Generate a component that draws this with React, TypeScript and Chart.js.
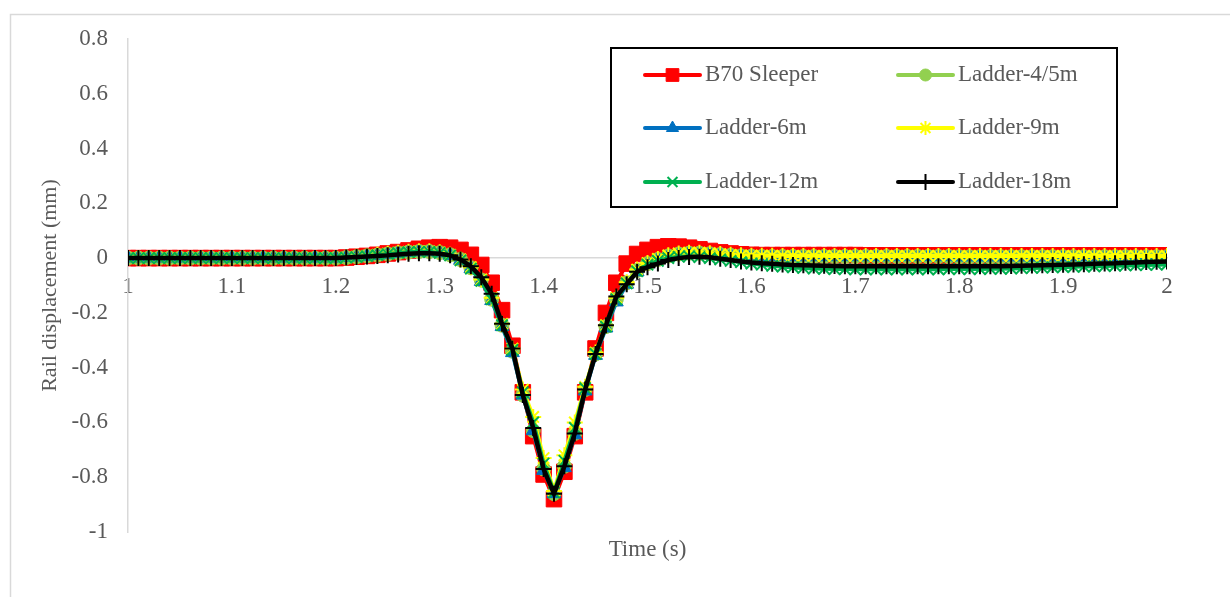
import React, { useEffect, useRef } from "react";
import { Chart, registerables } from "chart.js";
import { drawPoint } from "chart.js/helpers";

Chart.register(...registerables);

const timeS = [
  1, 1.01, 1.02, 1.03, 1.04, 1.05, 1.06, 1.07, 1.08, 1.09,
  1.1, 1.11, 1.12, 1.13, 1.14, 1.15, 1.16, 1.17, 1.18, 1.19,
  1.2, 1.21, 1.22, 1.23, 1.24, 1.25, 1.26, 1.27, 1.28, 1.29,
  1.3, 1.31, 1.32, 1.33, 1.34, 1.35, 1.36, 1.37, 1.38, 1.39,
  1.4, 1.41, 1.42, 1.43, 1.44, 1.45, 1.46, 1.47, 1.48, 1.49,
  1.5, 1.51, 1.52, 1.53, 1.54, 1.55, 1.56, 1.57, 1.58, 1.59,
  1.6, 1.61, 1.62, 1.63, 1.64, 1.65, 1.66, 1.67, 1.68, 1.69,
  1.7, 1.71, 1.72, 1.73, 1.74, 1.75, 1.76, 1.77, 1.78, 1.79,
  1.8, 1.81, 1.82, 1.83, 1.84, 1.85, 1.86, 1.87, 1.88, 1.89,
  1.9, 1.91, 1.92, 1.93, 1.94, 1.95, 1.96, 1.97, 1.98, 1.99,
  2,
];

const b70Sleeper = [
  0, 0, 0, 0, 0, 0, 0, 0, 0, 0,
  0, 0, 0, 0, 0, 0, 0, 0, 0, 0,
  0, 0.002, 0.005, 0.008, 0.012, 0.017, 0.022, 0.028, 0.034, 0.038,
  0.04, 0.038, 0.03, 0.012, -0.025, -0.09, -0.19, -0.32, -0.49, -0.65,
  -0.79, -0.88, -0.78, -0.65, -0.49, -0.33, -0.2, -0.09, -0.02, 0.015,
  0.03, 0.04, 0.043, 0.042, 0.038, 0.032, 0.026, 0.021, 0.017, 0.014,
  0.012, 0.011, 0.011, 0.011, 0.011, 0.011, 0.011, 0.011, 0.011, 0.011,
  0.011, 0.01, 0.01, 0.01, 0.01, 0.01, 0.01, 0.01, 0.01, 0.01,
  0.01, 0.01, 0.01, 0.01, 0.01, 0.01, 0.01, 0.01, 0.01, 0.01,
  0.01, 0.01, 0.01, 0.01, 0.01, 0.01, 0.01, 0.01, 0.01, 0.01,
  0.01,
];

const ladder45m = [
  0, 0, 0, 0, 0, 0, 0, 0, 0, 0,
  0, 0, 0, 0, 0, 0, 0, 0, 0, 0,
  0, 0.002, 0.005, 0.008, 0.011, 0.015, 0.019, 0.022, 0.024, 0.024,
  0.02, 0.012, -0.005, -0.035, -0.08, -0.15, -0.245, -0.34, -0.5, -0.63,
  -0.77, -0.86, -0.76, -0.64, -0.48, -0.35, -0.25, -0.15, -0.09, -0.045,
  -0.02, -0.005, 0.008, 0.015, 0.018, 0.018, 0.016, 0.013, 0.01, 0.008,
  0.007, 0.006, 0.006, 0.006, 0.006, 0.006, 0.006, 0.006, 0.006, 0.006,
  0.006, 0.006, 0.006, 0.006, 0.006, 0.006, 0.006, 0.006, 0.006, 0.006,
  0.005, 0.005, 0.005, 0.005, 0.005, 0.005, 0.005, 0.005, 0.005, 0.005,
  0.005, 0.005, 0.005, 0.005, 0.005, 0.005, 0.005, 0.005, 0.005, 0.005,
  0.005,
];

const ladder6m = [
  0, 0, 0, 0, 0, 0, 0, 0, 0, 0,
  0, 0, 0, 0, 0, 0, 0, 0, 0, 0,
  0, 0.002, 0.004, 0.007, 0.01, 0.014, 0.018, 0.021, 0.023, 0.023,
  0.019, 0.01, -0.008, -0.038, -0.085, -0.155, -0.25, -0.345, -0.5, -0.63,
  -0.775, -0.86, -0.765, -0.645, -0.485, -0.355, -0.255, -0.16, -0.095, -0.05,
  -0.022, -0.006, 0.006, 0.013, 0.016, 0.016, 0.014, 0.012, 0.009, 0.007,
  0.006, 0.006, 0.006, 0.005, 0.005, 0.005, 0.005, 0.005, 0.005, 0.005,
  0.005, 0.005, 0.005, 0.005, 0.005, 0.005, 0.005, 0.005, 0.005, 0.005,
  0.004, 0.004, 0.004, 0.004, 0.004, 0.004, 0.004, 0.004, 0.004, 0.004,
  0.004, 0.004, 0.004, 0.004, 0.004, 0.004, 0.004, 0.004, 0.004, 0.004,
  0.004,
];

const ladder9m = [
  0, 0, 0, 0, 0, 0, 0, 0, 0, 0,
  0, 0, 0, 0, 0, 0, 0, 0, 0, 0,
  0, 0.002, 0.005, 0.008, 0.012, 0.016, 0.02, 0.023, 0.025, 0.025,
  0.021, 0.012, -0.005, -0.033, -0.078, -0.145, -0.24, -0.33, -0.48, -0.58,
  -0.73, -0.85, -0.72, -0.6, -0.47, -0.345, -0.245, -0.145, -0.088, -0.042,
  -0.018, -0.003, 0.01, 0.017, 0.02, 0.02, 0.018, 0.015, 0.012, 0.01,
  0.009, 0.009, 0.009, 0.008, 0.008, 0.008, 0.008, 0.008, 0.008, 0.008,
  0.008, 0.008, 0.008, 0.008, 0.008, 0.008, 0.008, 0.008, 0.008, 0.008,
  0.008, 0.008, 0.008, 0.008, 0.008, 0.008, 0.008, 0.008, 0.008, 0.008,
  0.008, 0.008, 0.008, 0.008, 0.008, 0.008, 0.008, 0.008, 0.008, 0.008,
  0.008,
];

const ladder12m = [
  0, 0, 0, 0, 0, 0, 0, 0, 0, 0,
  0, 0, 0, 0, 0, 0, 0, 0, 0, 0,
  0, 0.002, 0.004, 0.007, 0.011, 0.015, 0.019, 0.022, 0.023, 0.023,
  0.019, 0.01, -0.008, -0.038, -0.083, -0.15, -0.245, -0.335, -0.49, -0.6,
  -0.75, -0.855, -0.74, -0.62, -0.475, -0.35, -0.25, -0.15, -0.092, -0.048,
  -0.024, -0.01, 0, 0.005, 0.006, 0.004, 0, -0.005, -0.01, -0.015,
  -0.02, -0.024, -0.028, -0.031, -0.034, -0.036, -0.038, -0.039, -0.04, -0.04,
  -0.041, -0.041, -0.041, -0.041, -0.041, -0.041, -0.041, -0.041, -0.041, -0.04,
  -0.04, -0.04, -0.04, -0.039, -0.039, -0.038, -0.037, -0.036, -0.035, -0.034,
  -0.033, -0.032, -0.031, -0.03, -0.029, -0.028, -0.027, -0.026, -0.025, -0.024,
  -0.023,
];

const ladder18m = [
  0, 0, 0, 0, 0, 0, 0, 0, 0, 0,
  0, 0, 0, 0, 0, 0, 0, 0, 0, 0,
  0, 0.002, 0.004, 0.006, 0.008, 0.01, 0.013, 0.016, 0.018, 0.018,
  0.016, 0.01, -0.005, -0.03, -0.07, -0.13, -0.24, -0.33, -0.5, -0.62,
  -0.77, -0.86, -0.76, -0.64, -0.48, -0.35, -0.245, -0.14, -0.095, -0.05,
  -0.033, -0.02, -0.007, 0, 0.004, 0.005, 0.003, -0.002, -0.007, -0.012,
  -0.016, -0.019, -0.021, -0.023, -0.025, -0.026, -0.027, -0.028, -0.029, -0.03,
  -0.03, -0.03, -0.03, -0.03, -0.03, -0.03, -0.03, -0.03, -0.03, -0.03,
  -0.03, -0.03, -0.03, -0.03, -0.03, -0.029, -0.028, -0.027, -0.026, -0.025,
  -0.024, -0.023, -0.022, -0.021, -0.02, -0.019, -0.017, -0.016, -0.014, -0.013,
  -0.012,
];

const seriesNames = ["B70 Sleeper", "Ladder-4/5m", "Ladder-6m", "Ladder-9m", "Ladder-12m", "Ladder-18m"];
const xTickValues = [1, 1.1, 1.2, 1.3, 1.4, 1.5, 1.6, 1.7, 1.8, 1.9, 2];
const yTickValues = [0.8, 0.6, 0.4, 0.2, 0, -0.2, -0.4, -0.6, -0.8, -1];
const xTitle = "Time (s)";
const yTitle = "Rail displacement (mm)";

const FONT = "'Liberation Serif', 'Times New Roman', serif";
const TEXT = "#595959";
const AXIS = "#D9D9D9";

const fmt = (v: number) => String(Number(v.toFixed(2)));

export default function App() {
  const ref = useRef<HTMLCanvasElement>(null);

  useEffect(() => {
    if (!ref.current) return;
    const styles = [
      { data: b70Sleeper, color: "#FF0000", style: "rect", r: 11, lr: 9, bw: 1, lw: 4, order: 6 },
      { data: ladder45m, color: "#92D050", style: "circle", r: 7, lr: 6, bw: 1, lw: 4, order: 5 },
      { data: ladder6m, color: "#0070C0", style: "triangle", r: 8, lr: 7, bw: 1, lw: 4, order: 4 },
      { data: ladder9m, color: "#FFFF00", style: "star", r: 8, lr: 7, bw: 2, lw: 4, order: 3 },
      { data: ladder12m, color: "#00B050", style: "crossRot", r: 8, lr: 7, bw: 2, lw: 4, order: 2 },
      { data: ladder18m, color: "#000000", style: "cross", r: 8, lr: 8, bw: 2, lw: 4.5, order: 1 },
    ];
    const datasets = styles.map((s, k) => ({
      label: seriesNames[k],
      data: timeS.map((t, i) => ({ x: t, y: s.data[i] })),
      borderColor: s.color,
      backgroundColor: s.color,
      pointStyle: s.style,
      pointRadius: s.r,
      pointBorderWidth: s.bw,
      pointBorderColor: s.color,
      pointBackgroundColor: s.color,
      borderWidth: s.lw,
      order: s.order,
      tension: 0,
    }));

    const decor = {
      id: "decor",
      beforeDraw(chart: any) {
        const ctx = chart.ctx;
        ctx.save();
        ctx.fillStyle = "#fff";
        ctx.fillRect(0, 0, chart.width, chart.height);
        ctx.strokeStyle = AXIS;
        ctx.lineWidth = 1.5;
        ctx.strokeRect(10.5, 14.5, 1400, 800);
        ctx.restore();
      },
      afterDraw(chart: any) {
        const ctx = chart.ctx;
        const ca = chart.chartArea;
        ctx.save();
        ctx.fillStyle = TEXT;
        ctx.font = `23px ${FONT}`;
        ctx.textAlign = "center";
        ctx.textBaseline = "middle";
        ctx.fillText(xTitle, (ca.left + ca.right) / 2, 550);
        const bx = 611, by = 48, bw = 506, bh = 159;
        ctx.fillStyle = "#fff";
        ctx.fillRect(bx, by, bw, bh);
        ctx.strokeStyle = "#000";
        ctx.lineWidth = 2;
        ctx.strokeRect(bx, by, bw, bh);
        const colX = [645, 898];
        const rowY = [75, 128, 182];
        styles.forEach((s, k) => {
          const lx = colX[k % 2];
          const ly = rowY[Math.floor(k / 2)];
          ctx.strokeStyle = s.color;
          ctx.lineWidth = 4;
          ctx.lineCap = "round";
          ctx.beginPath();
          ctx.moveTo(lx, ly);
          ctx.lineTo(lx + 55, ly);
          ctx.stroke();
          ctx.lineCap = "butt";
          ctx.fillStyle = s.color;
          ctx.strokeStyle = s.color;
          ctx.lineWidth = s.bw;
          drawPoint(ctx, { pointStyle: s.style as any, radius: s.lr, rotation: 0, borderWidth: s.bw }, lx + 27.5, ly);
          ctx.fillStyle = TEXT;
          ctx.font = `23px ${FONT}`;
          ctx.textAlign = "left";
          ctx.textBaseline = "middle";
          ctx.fillText(seriesNames[k], lx + 60, ly);
        });
        ctx.restore();
      },
    };

    const chart = new Chart(ref.current, {
      type: "line",
      data: { datasets: datasets as any },
      plugins: [decor],
      options: {
        animation: false,
        responsive: false,
        maintainAspectRatio: false,
        layout: { padding: { left: 0, top: 39, right: 63, bottom: 65 } },
        plugins: { legend: { display: false }, tooltip: { enabled: false }, title: { display: false } },
        scales: {
          x: {
            type: "linear",
            min: 1,
            max: 2,
            position: { y: 0 } as any,
            afterBuildTicks: (scale: any) => {
              scale.ticks = xTickValues.map((v) => ({ value: v }));
            },
            ticks: {
              callback: (v: any) => fmt(Number(v)),
              color: TEXT,
              font: { family: FONT, size: 23 },
              padding: 15,
              maxRotation: 0,
              autoSkip: false,
            },
            grid: { color: "transparent", drawTicks: false },
            border: { display: true, color: AXIS, width: 1.5 },
          },
          y: {
            type: "linear",
            min: -1,
            max: 0.8,
            afterBuildTicks: (scale: any) => {
              scale.ticks = yTickValues.map((v) => ({ value: v }));
            },
            afterFit: (scale: any) => {
              scale.width = 128;
            },
            ticks: {
              callback: (v: any) => fmt(Number(v)),
              color: TEXT,
              font: { family: FONT, size: 23 },
              padding: 20,
              autoSkip: false,
            },
            grid: { color: "transparent", drawTicks: false },
            border: { display: true, color: AXIS, width: 1.5 },
            title: {
              display: true,
              text: yTitle,
              color: TEXT,
              font: { family: FONT, size: 22 },
              padding: { top: 37, bottom: 0 },
            },
          },
        },
      },
    });
    return () => chart.destroy();
  }, []);

  return (
    <div style={{ position: "fixed", left: 0, top: 0, width: 1230, height: 597, background: "#fff" }}>
      <canvas ref={ref} width={1230} height={597} style={{ width: 1230, height: 597, display: "block" }} />
    </div>
  );
}
